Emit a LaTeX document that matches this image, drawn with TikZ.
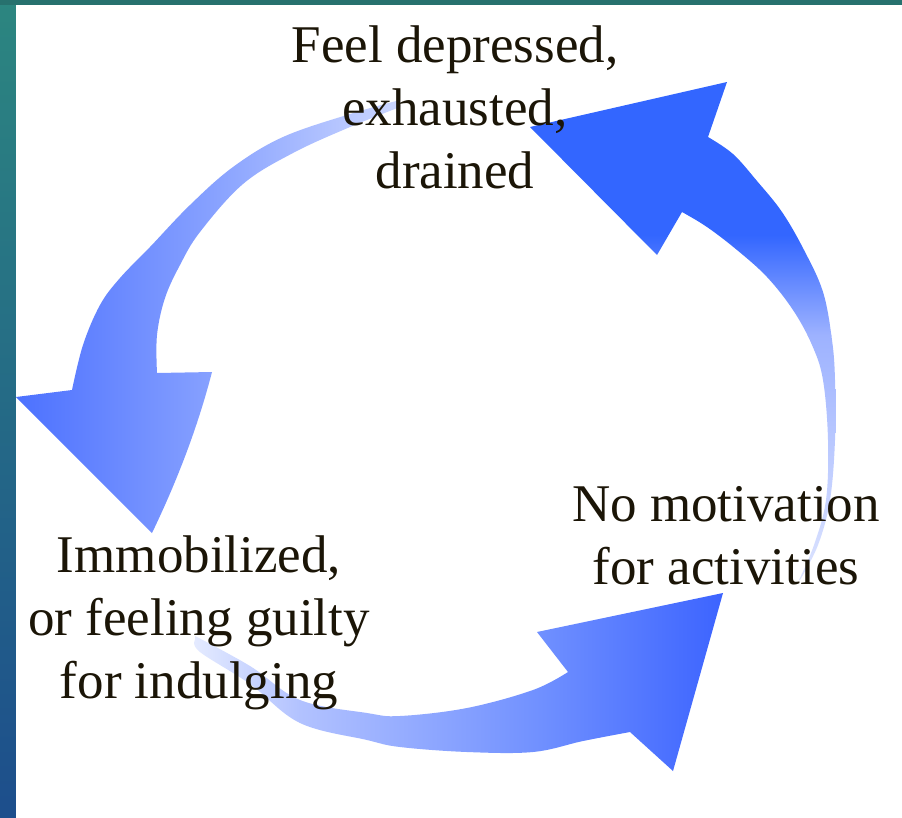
\documentclass[tikz,border=0pt]{standalone}
\usepackage{fontspec}
\setmainfont{Liberation Serif}
\begin{document}
\begin{tikzpicture}[x=1pt,y=-1pt,
  lbl/.style={font=\fontsize{53}{63}\selectfont, text=inkbrown, align=center,
              inner sep=0pt, anchor=north}]
% palette
\definecolor{inkbrown}{HTML}{1B1507}
\definecolor{frameteal}{HTML}{2C8680}
\definecolor{frametealdark}{HTML}{27716E}
\definecolor{frameblue}{HTML}{1D4E8C}
\definecolor{aAdark}{HTML}{3366FF}
\definecolor{aAmid}{HTML}{9DB2FF}
\definecolor{aAlight}{HTML}{E2E8FF}
\definecolor{aBdark}{HTML}{4A70FF}
\definecolor{aBmid}{HTML}{5F80FF}
\definecolor{aBlite}{HTML}{88A2FF}
\definecolor{aBtail}{HTML}{D0DAFF}
\definecolor{aCtail}{HTML}{E6ECFF}
\definecolor{aCa}{HTML}{B2C2FF}
\definecolor{aCb}{HTML}{7090FF}
\definecolor{aCdark}{HTML}{3A62FF}

\useasboundingbox (0,0) rectangle (902,817);

% frame and white panel
\shade[top color=frameteal, middle color=frametealdark, bottom color=frameblue]
  (0,0) rectangle (902,817);
\fill[frametealdark] (0,-2) rectangle (905,5);
\fill[white] (16,5) rectangle (905,822);

% arrow: right side, rising to the top
\begin{scope}
\clip plot[smooth, tension=0.6] coordinates {(800,580) (818,545) (830,500) (835,440)
    (835,380) (832,340) (823,292) (804,250) (782,212) (757,181) (733,154) (708,137)}
  -- (727,82) -- (530,127) -- (657,255) -- (682,212)
  -- plot[smooth, tension=0.6] coordinates {(682,212) (707,227) (737,250) (767,277)
    (793,310) (812,345) (823,380) (828,440) (826,500) (814,545) (799,580)} -- cycle;
\fill[aAdark] (500,60) rectangle (860,235);
\shade[top color=aAdark, bottom color=aAmid] (500,235) rectangle (860,335);
\shade[top color=aAmid, bottom color=aAlight] (500,335) rectangle (860,600);
\end{scope}

% arrow: left side, falling down
\begin{scope}
\clip plot[smooth, tension=0.6] coordinates {(400,100) (350,114) (283,137) (233,167)
    (190,205) (150,247) (120,278) (100,305) (83,345) (72,390)}
  -- (16,397) -- (152,533) .. controls (178,479) and (198,426) .. (212,372)
  -- (157,373)
  -- plot[smooth, tension=0.6] coordinates {(157,373) (157,335) (165,298) (180,265)
    (200,232) (243,184) (293,153) (350,127) (400,107)} -- cycle;
\shade[left color=aBdark, right color=aBmid] (10,90) rectangle (80,540);
\shade[left color=aBmid, right color=aBlite] (80,90) rectangle (215,540);
\shade[left color=aBlite, right color=aBtail] (215,90) rectangle (410,540);
\end{scope}

% arrow: bottom, sweeping to the right
\begin{scope}
\clip plot[smooth, tension=0.6] coordinates {(195,636) (250,666) (300,700) (367,713)
    (400,716) (467,708) (533,690) (568,672)}
  -- (537,632) -- (723,593) -- (673,771) -- (630,732)
  -- plot[smooth, tension=0.6] coordinates {(630,732) (583,741) (533,752) (467,752)
    (400,747) (367,740) (300,723) (250,684) (200,652) (195,640)} -- cycle;
\shade[left color=aCtail, right color=aCa] (190,580) rectangle (300,780);
\shade[left color=aCa, right color=aCb] (300,580) rectangle (540,780);
\shade[left color=aCb, right color=aCdark] (540,580) rectangle (730,780);
\end{scope}

% labels
\node[lbl] (feel)  at (455,26)  {Feel depressed,\\exhausted,\\drained};
\node[lbl] (nomot) at (726,486) {No motivation\\for activities};
\node[lbl] (immob) at (199,536) {Immobilized,\\or feeling guilty\\for indulging};
\end{tikzpicture}
\end{document}
